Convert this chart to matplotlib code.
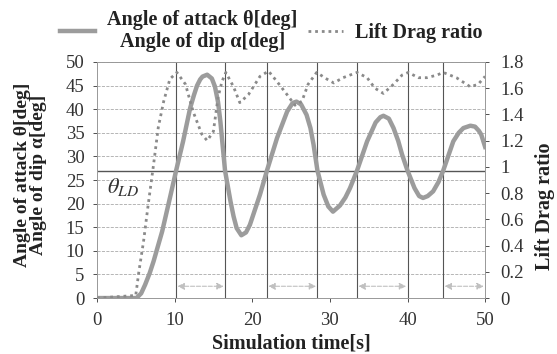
import numpy as np
import matplotlib
matplotlib.use("Agg")
import matplotlib.pyplot as plt
from matplotlib.ticker import FormatStrFormatter

# angle of attack / dip [deg]
theta_t = [0, 5.1, 5.7, 6.2, 6.8, 7.3, 8.4, 9.4, 10.2, 11.1, 12.0, 12.5, 12.9,
           13.3, 13.6, 14.2, 14.8, 15.2, 15.6, 15.9, 16.5, 17.2, 17.6, 18.0,
           18.6, 19.2, 19.7, 21.0, 21.9, 23.2, 24.5, 25.2, 25.7, 26.3, 27.0,
           27.5, 27.9, 28.4, 29.2, 29.8, 30.4, 31.3, 32.0, 32.6, 33.5, 34.8,
           35.9, 36.5, 36.9, 37.6, 38.2, 38.8, 39.3, 40.0, 40.9, 41.5, 42.0,
           42.6, 43.3, 44.0, 44.6, 45.9, 46.6, 47.2, 48.1, 48.7, 49.2, 49.5, 50.0]
theta_deg = [0, 0, 1.0, 2.8, 5.3, 7.8, 14.1, 21.2, 27.0, 33.2, 40.2, 43.0, 45.0,
             46.3, 46.9, 47.3, 46.5, 44.8, 41.5, 37.4, 27.0, 20.5, 17.3, 14.8,
             13.3, 13.9, 15.5, 21.9, 27.0, 33.9, 39.5, 41.3, 41.6, 41.0, 38.8,
             36.0, 32.5, 27.0, 21.9, 19.4, 18.3, 19.6, 21.3, 23.3, 27.0, 33.2,
             37.2, 38.3, 38.6, 38.0, 36.0, 33.3, 30.4, 27.0, 23.3, 21.6, 21.2,
             21.6, 22.6, 24.6, 27.0, 33.2, 35.0, 36.0, 36.5, 36.3, 35.4, 34.6, 32.0]

# lift drag ratio
ld_t = [0, 5.0, 5.4, 6.0, 6.6, 7.3, 7.9, 8.6, 9.4, 10.3, 11.4, 12.4, 13.5,
        14.2, 15.0, 15.6, 16.1, 16.6, 17.6, 18.4, 19.5, 21.0, 22.1, 23.2,
        24.5, 25.5, 26.4, 27.2, 28.3, 29.6, 30.5, 31.7, 33.5, 34.8, 35.8,
        36.9, 38.2, 39.3, 40.1, 41.4, 42.5, 43.8, 44.6, 46.3, 48.1, 49.1, 50.0]
ld_ratio = [0, 0.02, 0.20, 0.43, 0.71, 1.02, 1.30, 1.50, 1.67, 1.72, 1.63, 1.42,
            1.25, 1.20, 1.27, 1.53, 1.65, 1.72, 1.61, 1.49, 1.55, 1.69, 1.73,
            1.65, 1.55, 1.47, 1.50, 1.63, 1.72, 1.67, 1.64, 1.68, 1.72, 1.68,
            1.60, 1.56, 1.63, 1.70, 1.72, 1.68, 1.68, 1.70, 1.72, 1.68, 1.61,
            1.63, 1.69]

theta_ld = 27.0
crossings = [10.2, 16.5, 21.9, 28.4, 33.5, 40.0, 44.6]
arrow_spans = [(10.2, 16.5), (21.9, 28.4), (33.5, 40.0), (44.6, 50.0)]

plt.rcParams["font.family"] = ["Liberation Serif", "DejaVu Serif"]
plt.rcParams["mathtext.fontset"] = "stix"

fig = plt.figure(figsize=(5.57, 3.54), dpi=100)
ax = fig.add_axes([0.174, 0.158, 0.697, 0.667])
ax2 = ax.twinx()

ax.grid(axis="y", color="#aaaaaa", linestyle="--", linewidth=0.6)
ax.set_axisbelow(True)

for t in crossings:
  ax.axvline(t, color="#555555", linewidth=0.8, zorder=1)
ax.axhline(theta_ld, color="#555555", linewidth=1.0, zorder=1)

for a, b in arrow_spans:
  ax.annotate("", xy=(b, 2.5), xytext=(a, 2.5),
              arrowprops=dict(arrowstyle="<|-|>", color="#c0c0c0",
                              linestyle="--", linewidth=0.8,
                              shrinkA=1, shrinkB=1, mutation_scale=10))

ax.text(1.3, 22.3, r"$\theta_{LD}$", fontsize=16, color="#333333")

line1, = ax.plot(theta_t, theta_deg, color="#9c9c9c", linewidth=3.2, zorder=3,
                 solid_joinstyle="round")
line2, = ax2.plot(ld_t, ld_ratio, color="#8a8a8a", linestyle=(0, (1, 1.4)),
                  linewidth=2, zorder=3)

ax.set_xlim(0, 50)
ax.set_ylim(0, 50)
ax.set_xticks(np.arange(0, 51, 10))
ax.set_yticks(np.arange(0, 51, 5))
ax2.set_ylim(0, 1.8)
ax2.set_yticks(np.arange(0, 1.81, 0.2))
ax2.yaxis.set_major_formatter(FormatStrFormatter("%g"))

for a in (ax, ax2):
  a.tick_params(labelsize=13.5, colors="#333333", length=3, width=0.6)
  for s in a.spines.values():
    s.set_color("#999999")
    s.set_linewidth(0.6)
ax.tick_params(axis="x", pad=7)
ax.tick_params(axis="y", pad=6)
ax2.tick_params(axis="y", pad=8)

ax.set_xlabel("Simulation time[s]", fontsize=14.5, fontweight="bold",
              color="#222222", labelpad=3)
ax.set_ylabel("Angle of attack θ[deg]\nAngle of dip α[deg]", fontsize=14,
              fontweight="bold", color="#222222", linespacing=0.95)
ax.yaxis.set_label_coords(-0.128, 0.52)
ax2.set_ylabel("Lift Drag ratio", fontsize=14.5, fontweight="bold",
               color="#222222")
ax2.yaxis.set_label_coords(1.128, 0.39)

leg = fig.legend([line1, line2],
                 ["Angle of attack θ[deg]\nAngle of dip α[deg]", "Lift Drag ratio"],
                 loc="center", bbox_to_anchor=(0.487, 0.913), ncol=2, frameon=False,
                 prop={"size": 14.5, "weight": "bold"}, handlelength=1.75,
                 columnspacing=0.5, handletextpad=0.6, borderpad=0.1)
for txt in leg.get_texts():
  txt.set_multialignment("center")
  txt.set_linespacing(1.1)
  txt.set_color("#222222")

fig.savefig("out.png", dpi=100)
